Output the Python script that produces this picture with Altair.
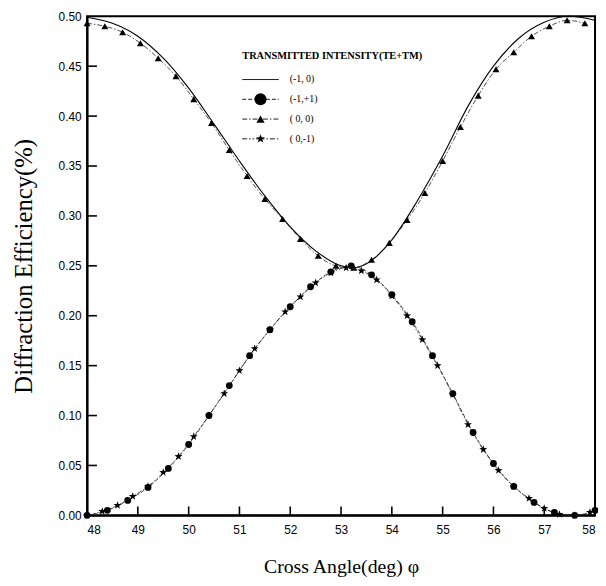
import altair as alt
import pandas as pd

# ---- data ----
solid_x = [48.0, 48.5, 49.0, 49.5, 50.0, 50.5, 51.0, 51.5, 52.0, 52.5, 53.0, 53.25, 53.5,
           54.0, 54.5, 55.0, 55.5, 56.0, 56.5, 57.0, 57.5, 58.0]
solid_y = [0.499, 0.493, 0.480, 0.458, 0.428, 0.392, 0.355, 0.320, 0.289, 0.265, 0.250, 0.248, 0.252,
           0.276, 0.315, 0.360, 0.410, 0.450, 0.478, 0.494, 0.500, 0.496]

circ_x = [48.0, 48.4, 48.8, 49.2, 49.6, 50.0, 50.4, 50.8, 51.2, 51.6, 52.0, 52.4, 52.8,
          53.2, 53.6, 54.0, 54.4, 54.8, 55.2, 55.6, 56.0, 56.4, 56.8, 57.2, 57.6, 58.0]
circ_y = [0.000, 0.005, 0.015, 0.028, 0.047, 0.071, 0.100, 0.130, 0.160, 0.186, 0.209, 0.229, 0.244,
          0.250, 0.241, 0.221, 0.194, 0.160, 0.122, 0.083, 0.052, 0.029, 0.013, 0.003, 0.000, 0.005]

tri_x = [48.00, 48.35, 48.70, 49.05, 49.40, 49.75, 50.10, 50.45, 50.80, 51.15, 51.50, 51.85, 52.20,
         52.55, 52.90, 53.25, 53.60, 53.95, 54.30, 54.65, 55.00, 55.35, 55.70, 56.05, 56.40, 56.75,
         57.10, 57.45, 57.80]
tri_y = [0.493, 0.490, 0.484, 0.473, 0.458, 0.440, 0.417, 0.393, 0.366, 0.340, 0.317, 0.297, 0.277,
         0.260, 0.250, 0.248, 0.256, 0.273, 0.296, 0.323, 0.355, 0.389, 0.4205, 0.447, 0.464, 0.480,
         0.490, 0.496, 0.493]

star_x = [48.0, 48.3, 48.6, 48.9, 49.2, 49.5, 49.8, 50.1, 50.4, 50.7, 51.0, 51.3, 51.6, 51.9,
          52.2, 52.5, 52.8, 53.1, 53.4, 53.7, 54.0, 54.3, 54.6, 54.9, 55.2, 55.5, 55.8, 56.1,
          56.4, 56.7, 57.0, 57.3, 57.6, 57.9]
star_y = [0.000, 0.004, 0.010, 0.019, 0.029, 0.043, 0.059, 0.079, 0.100, 0.122, 0.145, 0.167, 0.186, 0.204,
          0.219, 0.233, 0.243, 0.248, 0.245, 0.236, 0.220, 0.200, 0.176, 0.150, 0.121, 0.091, 0.066, 0.045,
          0.029, 0.017, 0.007, 0.001, 0.000, 0.003]

x_ticks = [49, 50, 51, 52, 53, 54, 55, 56, 57]
y_ticks = [0.05, 0.10, 0.15, 0.20, 0.25, 0.30, 0.35, 0.40, 0.45]

legend_title = "TRANSMITTED INTENSITY(TE+TM)"
legend_labels = ["(-1, 0)", "(-1,+1)", "( 0, 0)", "( 0,-1)"]

STAR = ("M0,-1L0.235,-0.324L0.951,-0.309L0.38,0.124L0.588,0.809L0,0.4L-0.588,0.809"
        "L-0.38,0.124L-0.951,-0.309L-0.235,-0.324Z")

W, H = 514, 505

xenc = alt.X("x:Q", scale=alt.Scale(domain=[48, 58], nice=False, zero=False),
             axis=alt.Axis(title="Cross Angle(deg)  φ", values=list(range(48, 59)),
                           format="d", titleY=58, titleBaseline="alphabetic"))
yenc = alt.Y("y:Q", scale=alt.Scale(domain=[0, 0.5], nice=False),
             axis=alt.Axis(title="Diffraction Efficiency(%)", values=[i / 100 for i in range(0, 51, 5)],
                           format=".2f", titleX=-64, titleY=H / 2, titleAngle=-90,
                           titleBaseline="middle", titleFontSize=25))

def df(xs, ys):
    return pd.DataFrame({"x": xs, "y": ys})

layers = []
# solid (-1,0)
layers.append(alt.Chart(df(solid_x, solid_y)).mark_line(color="black", strokeWidth=1.1,
                                                        interpolate="monotone").encode(x=xenc, y=yenc))
# circles (-1,+1)
cd = df(circ_x, circ_y)
layers.append(alt.Chart(cd).mark_line(color="#222", strokeWidth=0.8, strokeDash=[4, 2],
                                      interpolate="monotone").encode(x=xenc, y=yenc))
layers.append(alt.Chart(cd).mark_point(shape="circle", filled=True, color="black", size=48,
                                       opacity=1).encode(x=xenc, y=yenc))
# triangles (0,0)
td = df(tri_x, tri_y)
layers.append(alt.Chart(td).mark_line(color="#222", strokeWidth=0.8, strokeDash=[5, 2, 1.5, 2],
                                      interpolate="monotone").encode(x=xenc, y=yenc))
layers.append(alt.Chart(td).mark_point(shape="triangle-up", filled=True, color="black", size=50,
                                       opacity=1).encode(x=xenc, y=yenc))
# stars (0,-1)
sd = df(star_x, star_y)
layers.append(alt.Chart(sd).mark_line(color="#222", strokeWidth=0.8, strokeDash=[5, 2, 1.5, 2, 1.5, 2],
                                      interpolate="monotone").encode(x=xenc, y=yenc))
layers.append(alt.Chart(sd).mark_point(shape=STAR, filled=True, color="black", size=72,
                                       opacity=1).encode(x=xenc, y=yenc))

# inward ticks
layers.append(alt.Chart(pd.DataFrame({"x": x_ticks})).mark_rule(color="black", strokeWidth=1.6).encode(
    x=xenc, y=alt.value(H), y2=alt.value(H - 9)))
layers.append(alt.Chart(pd.DataFrame({"y": y_ticks})).mark_rule(color="black", strokeWidth=1.6).encode(
    y=yenc, x=alt.value(0), x2=alt.value(10)))

# custom legend
LX0, LX1, LM, LT = 157, 194, 175.5, 205
row_y = [64, 84, 104, 124]
one = pd.DataFrame({"t": [legend_title]})
layers.append(alt.Chart(one).mark_text(align="left", baseline="middle", font="Liberation Serif",
                                       fontSize=10.5, fontWeight="bold", color="black").encode(
    x=alt.value(LX0), y=alt.value(40), text="t:N"))
dashes = [None, [4, 2], [5, 2, 1.5, 2], [5, 2, 1.5, 2, 1.5, 2]]
shapes = [None, "circle", "triangle-up", STAR]
sizes = [None, 150, 70, 90]
for i, lab in enumerate(legend_labels):
    d = pd.DataFrame({"t": [lab]})
    kw = dict(color="black", strokeWidth=0.9)
    if dashes[i]:
        kw["strokeDash"] = dashes[i]
    layers.append(alt.Chart(d).mark_rule(**kw).encode(
        x=alt.value(LX0), x2=alt.value(LX1), y=alt.value(row_y[i])))
    if shapes[i]:
        layers.append(alt.Chart(d).mark_point(shape=shapes[i], filled=True, color="black",
                                              size=sizes[i], opacity=1).encode(
            x=alt.value(LM), y=alt.value(row_y[i])))
    layers.append(alt.Chart(d).mark_text(align="left", baseline="middle", font="Liberation Serif",
                                         fontSize=10, color="black").encode(
        x=alt.value(LT), y=alt.value(row_y[i]), text="t:N"))

chart = alt.layer(*layers).properties(
    width=W, height=H,
    autosize=alt.AutoSizeParams(type="none"),
    padding={"left": 80, "top": 5, "right": 3, "bottom": 60},
).configure_view(stroke="black", strokeWidth=2).configure_axis(
    grid=False, ticks=False, domainColor="black", domainWidth=2,
    labelFont="Liberation Sans", labelFontSize=12, labelColor="black",
    titleFont="Liberation Serif", titleFontSize=20, titleFontWeight="normal", titleColor="black",
).configure_axisX(labelPadding=9).configure_axisY(labelPadding=6)

chart.save("out.html", embed_options={"renderer": "svg", "actions": False})
